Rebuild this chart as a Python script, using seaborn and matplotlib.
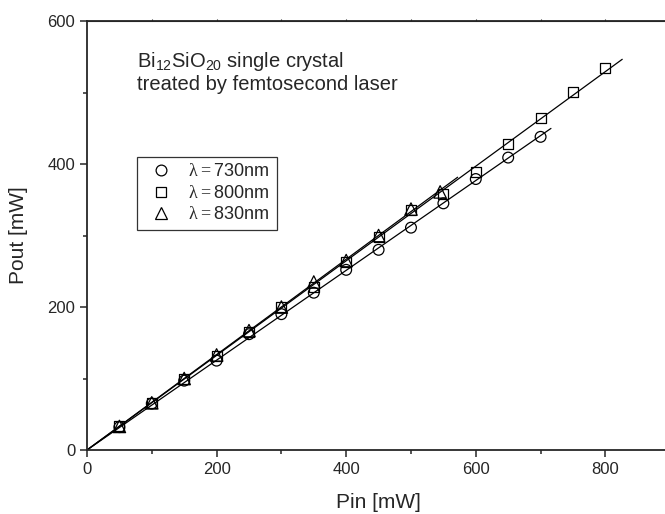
import numpy as np
import pandas as pd
import matplotlib.pyplot as plt
import seaborn as sns

# measured points, Pin [mW] -> Pout [mW]
pin_730 = [50, 100, 150, 200, 250, 300, 350, 400, 450, 500, 550, 600, 650, 700]
pout_730 = [32, 65, 97, 125, 162, 190, 220, 252, 280, 311, 345, 379, 409, 438]

pin_800 = [50, 100, 150, 200, 250, 300, 350, 400, 450, 500, 550, 600, 650, 700, 750, 800]
pout_800 = [33, 66, 99, 132, 165, 200, 228, 263, 298, 335, 358, 389, 428, 465, 501, 534]

pin_830 = [50, 100, 150, 200, 250, 300, 350, 400, 450, 500, 545]
pout_830 = [33, 66, 100, 133, 167, 200, 235, 265, 300, 337, 361]

labels = ['730nm', '800nm', '830nm']
markers = ['o', 's', '^']
sizes = [60, 52, 80]
fit_end = [716, 826, 572]  # where each fitted line stops

sns.set_style('ticks')
plt.rcParams['font.family'] = ['Liberation Sans', 'DejaVu Sans']
plt.rcParams['mathtext.fontset'] = 'custom'
plt.rcParams['mathtext.rm'] = 'Liberation Serif'

fig = plt.figure(figsize=(6.65, 5.14), dpi=100)
ax = fig.add_axes([0.1308, 0.1245, 0.877, 0.8346])

series = [(pin_730, pout_730), (pin_800, pout_800), (pin_830, pout_830)]
handles = []
for (x, y), lab, m, sz, xe in zip(series, labels, markers, sizes, fit_end):
    x = np.array(x, float)
    y = np.array(y, float)
    # linear fit through the origin
    k = (x @ y) / (x @ x)
    line = pd.DataFrame({'x': [0, xe], 'y': [0, k * xe]})
    sns.lineplot(data=line, x='x', y='y', ax=ax, color='black', lw=0.9)
    df = pd.DataFrame({'x': x, 'y': y})
    sns.scatterplot(data=df, x='x', y='y', ax=ax, marker=m, s=sz,
                    facecolor='none', edgecolor='black', linewidth=0.9)
    h, = ax.plot([], [], ls='none', marker=m, ms=np.sqrt(sz), mfc='none', mec='black', mew=0.9,
                 label=r'$\mathrm{λ = }$' + lab)
    handles.append(h)

ax.set_xlim(0, 900)
ax.set_ylim(0, 600)
ax.set_xticks([0, 200, 400, 600, 800])
ax.set_xticks(np.arange(100, 900, 200), minor=True)
ax.set_yticks([0, 200, 400, 600])
ax.set_yticks([100, 300, 500], minor=True)
ax.tick_params(which='major', length=5, width=1.1, labelsize=12, direction='out')
ax.tick_params(which='minor', length=3, width=1.1, direction='out')
for s in ax.spines.values():
    s.set_linewidth(1.3)
top = ax.secondary_xaxis('top')
top.set_xticks(np.arange(100, 900, 100))
top.tick_params(length=1.5, width=0.8, labeltop=False)
top.set_xticklabels([])

ax.set_xlabel('Pin [mW]', fontsize=15, labelpad=12)
ax.set_ylabel('Pout [mW]', fontsize=15, labelpad=14)

ax.text(77, 536, r'Bi$_{\mathregular{12}}$SiO$_{\mathregular{20}}$ single crystal', fontsize=14.5, va='baseline')
ax.text(77, 503, 'treated by femtosecond laser', fontsize=14.5, va='baseline')

leg = ax.legend(handles=handles, loc='upper left', bbox_to_anchor=(0.0858, 0.683),
                borderaxespad=0, frameon=True, fancybox=False, edgecolor='black', fontsize=13,
                handletextpad=0.5, borderpad=0.35, labelspacing=0.25, handlelength=2.0)
leg.get_frame().set_linewidth(0.9)

fig.savefig('out.png', dpi=100)
